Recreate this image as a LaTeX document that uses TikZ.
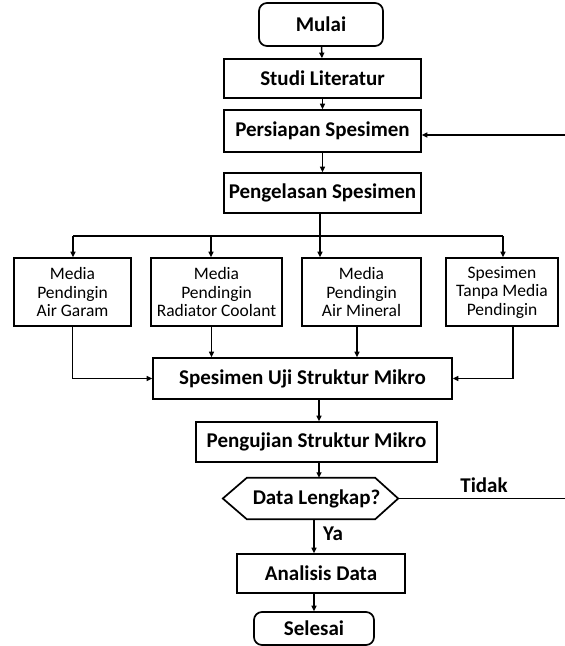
\documentclass[tikz,border=0pt]{standalone}
\usepackage{fontspec}
\setmainfont{Carlito}
\usetikzlibrary{arrows.meta}
\begin{document}
\begin{tikzpicture}[x=1pt,y=-1pt,
  box/.style={draw, line width=1.7pt, inner sep=0pt, align=center,
    font=\fontsize{21}{24}\selectfont\bfseries},
  term/.style={box, rounded corners=8pt},
  media/.style={box, minimum height=68pt,
    font=\fontsize{17.5}{18.5}\selectfont},
  link/.style={line width=1.5pt},
  arr/.style={link, -{Triangle[length=5.5pt,width=5pt]}},
  lbl/.style={font=\fontsize{21}{24}\selectfont\bfseries, inner sep=0pt}]
\useasboundingbox (0,0) rectangle (565,646);

% main column
\node[term, minimum width=124pt, minimum height=43pt] (mulai) at (321,24.5) {Mulai};
\node[box, minimum width=197pt, minimum height=39pt] (studi) at (322.5,78.5) {Studi Literatur};
\node[box, minimum width=197pt, minimum height=42pt] (persiapan) at (322.5,131) {Persiapan Spesimen};
\node[box, minimum width=197pt, minimum height=40pt] (pengelasan) at (322.5,193) {Pengelasan Spesimen};

% cooling media
\node[media, minimum width=117pt] (m1) at (72.5,292) {Media\\Pendingin\\Air Garam};
\node[media, minimum width=131pt] (m2) at (216.5,292) {Media\\Pendingin\\Radiator Coolant};
\node[media, minimum width=119pt] (m3) at (361.5,292) {Media\\Pendingin\\Air Mineral};
\node[media, minimum width=112pt] (m4) at (502,292) {Spesimen\\Tanpa Media\\Pendingin};

\node[box, minimum width=299pt, minimum height=41pt] (uji) at (302.5,378.5) {Spesimen Uji Struktur Mikro};
\node[box, minimum width=241pt, minimum height=40pt] (pengujian) at (316.5,442) {Pengujian Struktur Mikro};

% decision
\node[lbl, minimum width=175pt, minimum height=41pt] (dl) at (310.5,498.5) {\hspace*{12pt}Data Lengkap?};
\draw[line width=1.7pt] (dl.west) -- ([xshift=24pt]dl.north west) -- ([xshift=-23pt]dl.north east)
  -- (dl.east) -- ([xshift=-23pt]dl.south east) -- ([xshift=24pt]dl.south west) -- cycle;

\node[box, minimum width=168pt, minimum height=39pt] (analisis) at (321,573.5) {Analisis Data};
\node[term, minimum width=120pt, minimum height=33pt] (selesai) at (314,628.5) {Selesai};

\node[lbl] (tidak) at (484,485) {Tidak};
\node[lbl] (ya) at (333,534) {Ya};

% junction points
\coordinate (bus) at (320,236);
\coordinate (b1) at (73,236);
\coordinate (b2) at (211,236);
\coordinate (b4) at (503,236);
\coordinate (rt) at (565,498.5);
\coordinate (rb) at (565,135);
\coordinate (c1) at (319,0);
\coordinate (c2) at (314,0);

% connectors
\draw[arr] (mulai) -- (studi);
\draw[arr] (studi) -- (persiapan);
\draw[arr] (persiapan) -- (pengelasan);
\draw[link] (pengelasan.south -| bus) -- (bus);
\draw[link] (b1) -- (b4);
\draw[arr] (b1) -- (b1 |- m1.north);
\draw[arr] (b2) -- (b2 |- m2.north);
\draw[arr] (bus) -- (bus |- m3.north);
\draw[arr] (b4) -- (b4 |- m4.north);

\draw[arr] (m1.south) |- (uji.west);
\draw[arr] ([xshift=-5pt]m2.south) -- ([xshift=-5pt]m2.south |- uji.north);
\draw[arr] ([xshift=-4.5pt]m3.south) -- ([xshift=-4.5pt]m3.south |- uji.north);
\draw[arr] ([xshift=11pt]m4.south) |- (uji.east);

\draw[arr] (c1 |- uji.south) -- (c1 |- pengujian.north);
\draw[arr] (c1 |- pengujian.south) -- (c1 |- dl.north);
\draw[arr] (c2 |- dl.south) -- (c2 |- analisis.north);
\draw[arr] (c2 |- analisis.south) -- (c2 |- selesai.north);

\draw[link] (dl.east) -- (rt);
\draw[arr] (rb) -- (rb -| persiapan.east);
\end{tikzpicture}
\end{document}
